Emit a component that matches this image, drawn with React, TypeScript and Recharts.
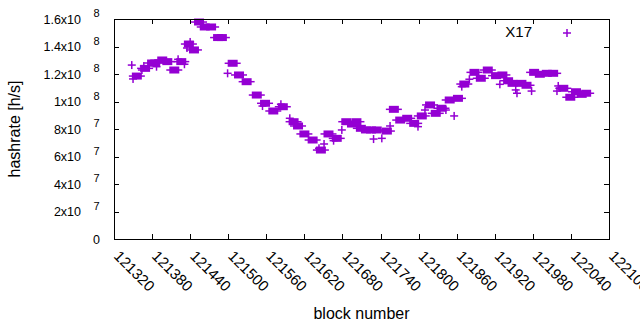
import { Legend, Scatter, ScatterChart, XAxis, YAxis } from 'recharts';

const COLOR = '#9400d3';
const INK = '#000000';
const FONT = '"Liberation Sans", Arial, sans-serif';

// chart box
const W = 640;
const H = 330;
const LEFT = 114;
const RIGHT = 609;
const TOP = 19;
const BOTTOM = 239;
const TICK = 5;

const xDomain = [121320, 122100];
const yDomain = [0, 1.6e8];

const xTicks = [
  121320, 121380, 121440, 121500, 121560, 121620, 121680, 121740, 121800,
  121860, 121920, 121980, 122040, 122100,
];
const yTicks = [0, 2e7, 4e7, 6e7, 8e7, 1e8, 1.2e8, 1.4e8, 1.6e8];

// isolated blocks
const singleBlocks = [
  121348, 121350, 121364, 121367, 121387, 121421, 121431, 121435, 121440,
  121499, 121554, 121583, 121597, 121643, 121651, 121666, 121679, 121729,
  121742, 121755, 121799, 121810, 121843, 121856, 121868, 121880, 121928,
  121953, 121955, 121978, 122018, 122020,
];
const singleRates = [
  126.5e6, 116.4e6, 122.9e6, 125.8e6, 125.3e6, 130.7e6, 127.1e6, 138.9e6,
  143.3e6, 120.5e6, 96.7e6, 98.0e6, 87.8e6, 66.0e6, 69.1e6, 71.5e6, 79.3e6,
  72.7e6, 73.2e6, 82.2e6, 81.7e6, 93.8e6, 93.8e6, 89.5e6, 110.8e6, 116.2e6,
  112.5e6, 108.4e6, 106.0e6, 107.6e6, 107.6e6, 111.3e6,
];

// runs of blocks with nearly the same hashrate (drawn overlapping)
const denseBlocks = [
  121356, 121369, 121380, 121385, 121396, 121404, 121415, 121426, 121438,
  121446, 121454, 121463, 121473, 121484, 121490, 121507, 121517, 121529,
  121545, 121558, 121571, 121586, 121603, 121610, 121620, 121633, 121646,
  121658, 121671, 121686, 121695, 121702, 121709, 121717, 121725, 121734,
  121750, 121761, 121771, 121782, 121793, 121805, 121818, 121827, 121836,
  121849, 121862, 121872, 121888, 121898, 121909, 121922, 121932, 121941,
  121948, 121962, 121970, 121982, 121991, 122002, 122012, 122028, 122039,
  122048, 122057, 122064,
];
const denseRates = [
  118.5e6, 124.1e6, 128.0e6, 128.0e6, 130.2e6, 129.0e6, 122.9e6, 129.0e6,
  141.8e6, 137.5e6, 157.8e6, 154.2e6, 154.2e6, 146.5e6, 146.5e6, 127.8e6,
  119.3e6, 114.4e6, 104.7e6, 98.7e6, 93.1e6, 96.2e6, 85.3e6, 82.2e6, 76.4e6,
  72.0e6, 64.7e6, 76.4e6, 73.2e6, 85.3e6, 83.6e6, 85.3e6, 80.5e6, 79.3e6,
  79.3e6, 79.3e6, 78.5e6, 94.3e6, 86.5e6, 87.8e6, 84.1e6, 89.5e6, 97.5e6,
  91.4e6, 95.1e6, 101.1e6, 102.3e6, 112.7e6, 121.2e6, 116.9e6, 122.9e6,
  118.8e6, 119.3e6, 115.1e6, 113.2e6, 113.2e6, 111.8e6, 121.2e6, 119.8e6,
  120.5e6, 120.5e6, 109.6e6, 103.1e6, 107.1e6, 105.2e6, 106.0e6,
];

const singles = singleBlocks.map((block, i) => ({ block, rate: singleRates[i] }));
const dense = denseBlocks.map((block, i) => ({ block, rate: denseRates[i] }));

const Plus = (props: any) => {
  const { cx, cy } = props;
  return (
    <g>
      <rect x={cx - 4} y={cy - 0.75} width={8} height={1.5} fill={COLOR} />
      <rect x={cx - 0.75} y={cy - 4} width={1.5} height={8} fill={COLOR} />
    </g>
  );
};

const Dense = (props: any) => {
  const { cx, cy } = props;
  return (
    <g>
      <rect x={cx - 5} y={cy - 3.5} width={10} height={7} fill={COLOR} />
      <rect x={cx - 8} y={cy - 0.75} width={16} height={1.5} fill={COLOR} />
    </g>
  );
};

// y tick label: mantissa "x10" with raised exponent, or a plain 0
const YTick = (props: any) => {
  const { y, payload } = props;
  const v = payload.value;
  if (v === 0) {
    return (
      <text x={LEFT - 14} y={y + 5} textAnchor='end' fontSize={12.5} fontFamily={FONT} fill={INK}>
        0
      </text>
    );
  }
  const exp = Math.floor(Math.log10(v) + 1e-9);
  const mant = +(v / 10 ** exp).toFixed(1);
  return (
    <g>
      <text x={LEFT - 33} y={y + 4.5} textAnchor='end' fontSize={12.5} fontFamily={FONT} fill={INK}>
        {`${mant}x10`}
      </text>
      <text x={LEFT - 20.5} y={y - 2} textAnchor='start' fontSize={11} fontFamily={FONT} fill={INK}>
        {exp}
      </text>
    </g>
  );
};

// x tick label, rotated down-right from the tick
const XTick = (props: any) => {
  const { x, payload } = props;
  const lx = x - 1;
  const ly = BOTTOM + 18;
  return (
    <text
      x={lx}
      y={ly}
      transform={`rotate(45 ${lx} ${ly})`}
      textAnchor='start'
      fontSize={15}
      fontFamily={FONT}
      fill={INK}
    >
      {payload.value}
    </text>
  );
};

// gnuplot-style frame with inward tick marks, plus the key in the top right corner
const px = (t: number) => LEFT + ((t - xDomain[0]) / (xDomain[1] - xDomain[0])) * (RIGHT - LEFT);
const py = (v: number) => BOTTOM - ((v - yDomain[0]) / (yDomain[1] - yDomain[0])) * (BOTTOM - TOP);

const FrameAndKey = () => {
  let d = '';
  xTicks.forEach((t) => {
    const x = Math.round(px(t)) + 0.5;
    d += `M${x},${BOTTOM}v${-TICK}M${x},${TOP}v${TICK}`;
  });
  yTicks.forEach((v) => {
    const y = Math.round(py(v)) + 0.5;
    d += `M${LEFT},${y}h${TICK}M${RIGHT},${y}h${-TICK}`;
  });
  return (
    <svg width={W} height={H} style={{ display: 'block' }}>
      <rect
        x={LEFT + 0.5}
        y={TOP + 0.5}
        width={RIGHT - LEFT}
        height={BOTTOM - TOP}
        fill='none'
        stroke={INK}
        strokeWidth={1}
      />
      <path d={d} stroke={INK} strokeWidth={1} fill='none' />
      <text x={532} y={37} textAnchor='end' fontSize={15} fontFamily={FONT} fill={INK}>
        X17
      </text>
      <rect x={563} y={32.25} width={8} height={1.5} fill={COLOR} />
      <rect x={566.25} y={29} width={1.5} height={8} fill={COLOR} />
    </svg>
  );
};

export default function App() {
  return (
    <div style={{ position: 'absolute', left: 0, top: 0, background: '#fff' }}>
      <ScatterChart
        width={W}
        height={H}
        margin={{ top: TOP, right: W - RIGHT, bottom: 0, left: 0 }}
      >
        <XAxis
          xAxisId='x'
          dataKey='block'
          type='number'
          domain={xDomain}
          ticks={xTicks}
          interval={0}
          height={H - BOTTOM}
          tickLine={false}
          axisLine={false}
          tickSize={0}
          tickMargin={0}
          tick={<XTick />}
          label={{
            value: 'block number',
            position: 'insideBottom',
            offset: 11,
            fontSize: 16,
            fontFamily: FONT,
            fill: INK,
          }}
        />
        <YAxis
          yAxisId='y'
          dataKey='rate'
          type='number'
          domain={yDomain}
          ticks={yTicks}
          interval={0}
          width={LEFT}
          tickLine={false}
          axisLine={false}
          tickSize={0}
          tickMargin={0}
          tick={<YTick />}
          label={{
            content: (p: any) => {
              const vb = p.viewBox;
              const lx = vb.x + 20;
              const ly = vb.y + vb.height / 2;
              return (
                <text
                  x={lx}
                  y={ly}
                  transform={`rotate(-90 ${lx} ${ly})`}
                  textAnchor='middle'
                  fontSize={16}
                  fontFamily={FONT}
                  fill={INK}
                >
                  hashrate [h/s]
                </text>
              );
            },
          }}
        />
        <Legend
          layout='horizontal'
          verticalAlign='middle'
          align='center'
          content={<FrameAndKey />}
          wrapperStyle={{
            position: 'absolute',
            left: 0,
            top: 0,
            width: W,
            height: H,
            pointerEvents: 'none',
          }}
        />
        <Scatter
          name='X17'
          data={dense}
          xAxisId='x'
          yAxisId='y'
          fill={COLOR}
          shape={<Dense />}
          legendType='none'
          isAnimationActive={false}
        />
        <Scatter
          name='X17'
          data={singles}
          xAxisId='x'
          yAxisId='y'
          fill={COLOR}
          shape={<Plus />}
          isAnimationActive={false}
        />
      </ScatterChart>
    </div>
  );
}
